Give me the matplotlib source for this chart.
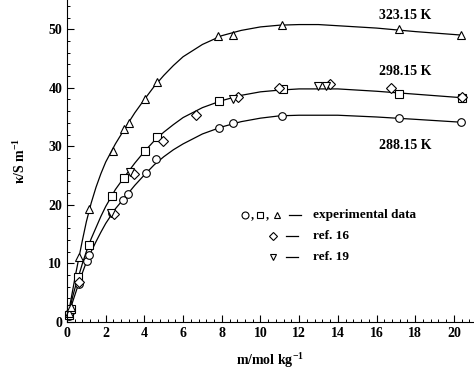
import matplotlib
matplotlib.use("Agg")
import matplotlib.pyplot as plt
from matplotlib.ticker import MultipleLocator, AutoMinorLocator

plt.rcParams['font.family'] = ['Liberation Serif', 'DejaVu Serif']
plt.rcParams['font.weight'] = 'bold'
plt.rcParams['mathtext.default'] = 'regular'

# experimental data (open symbols)
x_288 = [0.1, 0.15, 0.62, 1.02, 1.14, 2.34, 2.91, 3.17, 4.07, 4.6, 7.85, 8.6, 11.13, 17.17, 20.38]
y_288 = [1.0, 1.6, 6.4, 10.3, 11.4, 18.5, 20.8, 21.8, 25.4, 27.8, 33.2, 33.9, 35.2, 34.9, 34.1]

x_298 = [0.1, 0.2, 0.58, 1.14, 2.31, 2.96, 4.03, 4.63, 7.85, 11.15, 17.17, 20.4]
y_298 = [1.2, 2.2, 7.6, 13.1, 21.5, 24.5, 29.2, 31.5, 37.8, 39.7, 39.0, 38.3]

x_323 = [0.1, 0.2, 0.62, 1.14, 2.36, 2.96, 3.19, 4.03, 4.63, 7.82, 8.6, 11.13, 17.17, 20.38]
y_323 = [1.5, 2.5, 11.1, 19.2, 29.2, 32.9, 34.0, 38.1, 41.0, 48.8, 49.1, 50.7, 50.0, 49.0]

# literature data at 298.15 K
x_ref16 = [0.6, 2.45, 3.48, 4.98, 6.67, 8.85, 10.95, 13.57, 16.74, 20.4]
y_ref16 = [6.8, 18.4, 25.2, 30.9, 35.3, 38.4, 39.9, 40.6, 39.9, 38.4]

x_ref19 = [2.25, 3.26, 8.6, 13.0, 13.4]
y_ref19 = [18.6, 25.6, 38.0, 40.3, 40.3]

# fitted curves
cx = [0.02, 0.15, 0.3, 0.45, 0.6, 0.8, 1.0, 1.25, 1.5, 1.75, 2.0, 2.5, 3.0, 3.5, 4.0, 4.5, 5.0, 5.5, 6.0, 7.0,
      8.0, 9.0, 10.0, 11.0, 12.0, 13.0, 14.0, 16.0, 18.0, 20.4]
c_323 = [0.3, 2.8, 5.5, 8.2, 10.7, 14.0, 17.1, 20.3, 23.0, 25.3, 27.3, 30.4, 33.1, 35.7, 38.0, 40.2, 42.1, 43.8,
         45.3, 47.4, 48.9, 49.8, 50.4, 50.7, 50.8, 50.8, 50.6, 50.2, 49.6, 49.0]
c_298 = [0.3, 2.3, 4.4, 6.2, 7.8, 10.0, 12.0, 14.2, 16.1, 18.0, 19.7, 22.6, 24.9, 27.1, 29.1, 30.9, 32.4, 33.7,
         34.9, 36.6, 37.8, 38.7, 39.3, 39.6, 39.8, 39.8, 39.8, 39.4, 38.9, 38.3]
c_288 = [0.3, 1.9, 3.5, 5.0, 6.5, 8.4, 10.2, 12.0, 13.7, 15.3, 16.8, 19.3, 21.3, 23.3, 25.1, 26.8, 28.2, 29.4,
         30.4, 32.1, 33.3, 34.2, 34.8, 35.2, 35.3, 35.3, 35.3, 35.0, 34.6, 34.1]

fig = plt.figure(figsize=(4.74, 3.80), dpi=100)
ax = fig.add_axes([0.1414, 0.1534, 0.857, 0.8466])

lw = 0.9
for cy in (c_323, c_298, c_288):
    ax.plot(cx, cy, color='black', lw=lw)

mk = dict(linestyle='none', mfc='white', mec='black', mew=0.8, ms=5.5, clip_on=False)
ax.plot(x_288, y_288, marker='o', **mk)
ax.plot(x_298, y_298, marker='s', **mk)
ax.plot(x_323, y_323, marker='^', **mk)
ax.plot(x_ref16, y_ref16, marker='D', **dict(mk, ms=5))
ax.plot(x_ref19, y_ref19, marker='v', **mk)

ax.set_xlim(0, 21)
ax.set_ylim(0, 55)
ax.spines['top'].set_visible(False)
ax.spines['right'].set_visible(False)
ax.xaxis.set_major_locator(MultipleLocator(2))
ax.xaxis.set_minor_locator(AutoMinorLocator(5))
ax.yaxis.set_major_locator(MultipleLocator(10))
ax.yaxis.set_minor_locator(AutoMinorLocator(5))
ax.tick_params(which='major', direction='in', length=5, width=0.8, labelsize=10)
ax.tick_params(which='minor', direction='in', length=2.5, width=0.7)
for lab in ax.get_xticklabels() + ax.get_yticklabels():
    lab.set_fontweight('bold')

ax.set_xlabel('m/mol kg$^{-1}$', fontsize=10, fontweight='bold')
ax.set_ylabel('κ/S m$^{-1}$', fontsize=10, fontweight='bold')
ax.xaxis.set_label_coords(0.5, -0.09)
ax.yaxis.set_label_coords(-0.097, 0.5)

ax.text(17.5, 52.3, '323.15 K', ha='center', va='center', fontsize=10, fontweight='bold')
ax.text(17.5, 42.7, '298.15 K', ha='center', va='center', fontsize=10, fontweight='bold')
ax.text(17.5, 30.2, '288.15 K', ha='center', va='center', fontsize=10, fontweight='bold')

# legend built from markers and text
lk = dict(linestyle='none', mfc='white', mec='black', mew=0.8, ms=5, clip_on=False)
ly = [18.3, 14.7, 11.1]
ax.plot([9.2], [ly[0]], marker='o', **lk)
ax.text(9.5, ly[0], ',', ha='left', va='center', fontsize=9)
ax.plot([10.0], [ly[0]], marker='s', **lk)
ax.text(10.3, ly[0], ',', ha='left', va='center', fontsize=9)
ax.plot([10.85], [ly[0]], marker='^', **lk)
ax.plot([10.65], [ly[1]], marker='D', **dict(lk, ms=4.5))
ax.plot([10.65], [ly[2]], marker='v', **lk)
ax.plot([11.45, 12.1], [ly[0], ly[0]], color='black', lw=0.9)
for yy in ly[1:]:
    ax.plot([11.3, 11.95], [yy, yy], color='black', lw=0.9)
labels = ['experimental data', 'ref. 16', 'ref. 19']
for yy, t in zip(ly, labels):
    ax.text(12.7, yy, t, ha='left', va='center', fontsize=9.5, fontweight='bold')

fig.savefig('out.png', dpi=100)
